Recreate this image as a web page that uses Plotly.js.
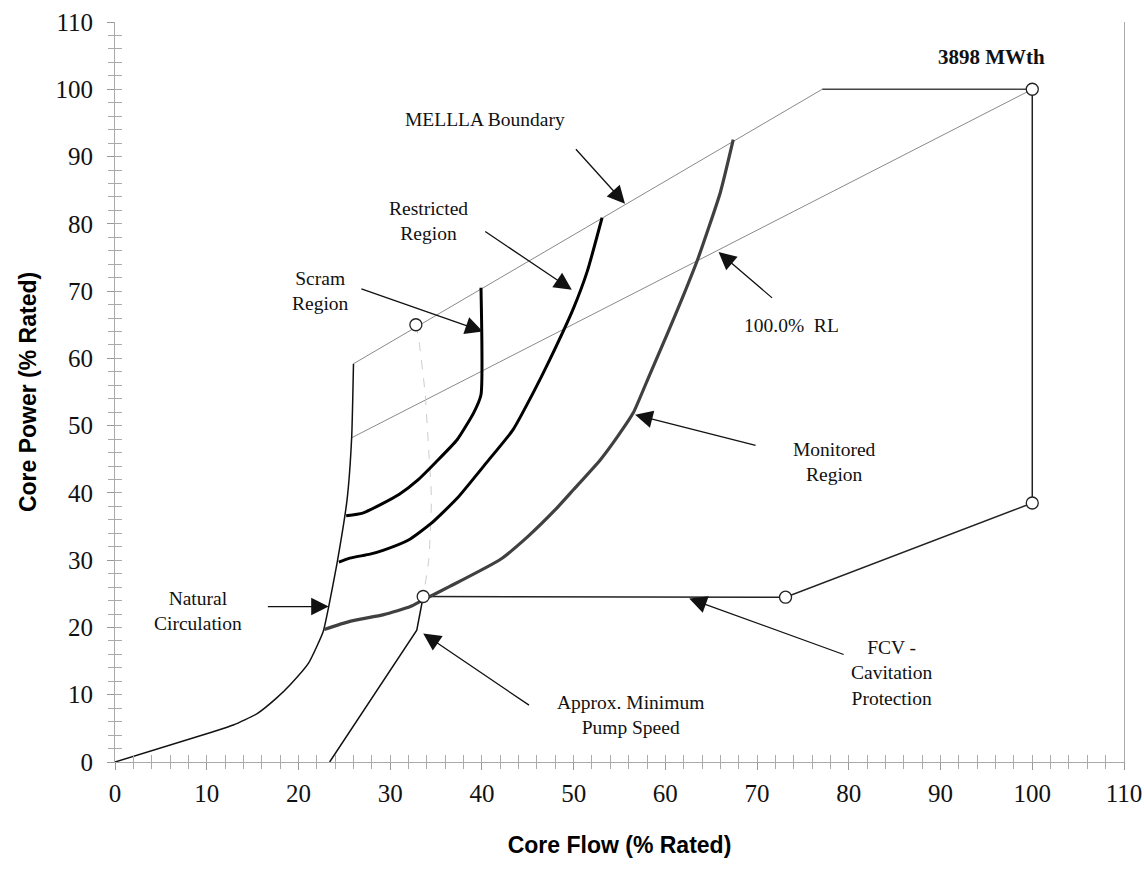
<!DOCTYPE html>
<html>
<head>
<meta charset="utf-8">
<script src="https://cdn.plot.ly/plotly-3.0.1.min.js"></script>
<style>html,body{margin:0;padding:0;background:#fff;}#chart{width:1144px;height:869px;}</style>
</head>
<body>
<div id="chart"></div>
<script>
// ---- data (Core Flow % rated, Core Power % rated) ----
const natX = [0, 10.7, 12.9, 15.5, 17.6, 19.1, 21.1, 22.7, 23.3, 24.2, 25.3, 25.8, 26.0];
const natY = [0, 4.5, 5.5, 7.2, 9.5, 11.5, 14.7, 19.4, 23.1, 29.5, 39.0, 48.2, 59.2];

const mellX = [26.0, 77.1];
const mellY = [59.2, 100];
const topX = [77.1, 100];
const topY = [100, 100];

const rlX = [25.8, 100];
const rlY = [48.2, 100];

const fcvX = [100, 100, 73.1, 33.6];
const fcvY = [100, 38.5, 24.5, 24.6];

const pumpX = [23.4, 32.9, 33.6];
const pumpY = [0, 19.6, 24.6];

const dashX = [32.8, 33.1, 33.8, 34.2, 34.5, 34.2, 33.6];
const dashY = [65, 63, 54.9, 46.4, 39, 30, 24.6];

const scramX = [25.2, 27.0, 29.0, 31.0, 33.0, 35.0, 37.3, 39.1, 39.9, 39.9];
const scramY = [36.6, 37.0, 38.3, 39.8, 41.9, 44.6, 47.9, 51.9, 54.6, 70.5];

const restX = [24.4, 25.6, 27.8, 29.3, 32.0, 34.5, 37.3, 40.5, 43.4, 45.6, 47.4, 50.0, 51.5, 53.1];
const restY = [29.7, 30.3, 30.9, 31.5, 33.0, 35.5, 39.2, 44.5, 49.4, 54.9, 59.8, 67.5, 73.0, 80.9];

const monX = [22.8, 25.6, 29.3, 32.2, 33.6, 36.5, 42.0, 45.0, 48.0, 50.0, 52.9, 54.8, 56.5, 58.3, 60.2, 61.8, 63.6, 66.0, 67.4];
const monY = [19.7, 20.9, 21.9, 23.1, 24.1, 26.1, 30.1, 33.5, 37.5, 40.5, 44.9, 48.4, 51.9, 57.6, 63.6, 68.8, 75.0, 84.7, 92.5];

const circX = [32.8, 100, 100, 73.1, 33.6];
const circY = [65, 100, 38.5, 24.5, 24.6];

const tickVals = [0, 10, 20, 30, 40, 50, 60, 70, 80, 90, 100, 110];
const tickText = ['0', '10', '20', '30', '40', '50', '60', '70', '80', '90', '100', '110'];

// labels: [text, x, y, bold]
const labels = [
  ['3898 MWth', 95.6, 104.8, true],
  ['MELLLA Boundary', 40.3, 95.5, false],
  ['Restricted<br>Region', 34.2, 80.4, false],
  ['Scram<br>Region', 22.4, 70.0, false],
  ['100.0%  RL', 73.8, 64.9, false],
  ['Monitored<br>Region', 78.4, 44.6, false],
  ['Natural<br>Circulation', 9.1, 22.4, false],
  ['Approx. Minimum<br>Pump Speed', 56.2, 7.0, false],
  ['FCV -<br>Cavitation<br>Protection', 84.6, 13.2, false]
];
// arrows: [headX, headY, tailX, tailY]
const arrows = [
  [55.6, 83.0, 50.1, 91.3],
  [49.8, 70.2, 40.2, 79.0],
  [40.1, 64.0, 26.7, 70.4],
  [65.8, 75.8, 71.8, 68.8],
  [56.7, 51.6, 70.0, 47.0],
  [23.3, 23.1, 16.5, 23.1],
  [33.6, 19.1, 45.3, 8.3],
  [62.6, 24.3, 79.6, 15.9]
];

function ln(x, y, color, width, dash) {
  return {x: x, y: y, type: 'scatter', mode: 'lines', hoverinfo: 'skip', showlegend: false,
          line: {color: color, width: width, dash: dash || 'solid', shape: 'spline', smoothing: 0.5}};
}
function st(x, y, color, width) {
  return {x: x, y: y, type: 'scatter', mode: 'lines', hoverinfo: 'skip', showlegend: false,
          line: {color: color, width: width}};
}

const traces = [
  st(mellX, mellY, '#8a8a8a', 1),
  st(topX, topY, '#444', 1.5),
  st(rlX, rlY, '#8a8a8a', 1),
  ln(dashX, dashY, '#cccccc', 1, 'dash'),
  ln(natX, natY, '#111', 1.5),
  st(pumpX, pumpY, '#111', 1.5),
  st(fcvX, fcvY, '#222', 1.5),
  ln(scramX, scramY, '#000', 3),
  ln(restX, restY, '#000', 3),
  ln(monX, monY, '#404040', 3.2),
  {x: circX, y: circY, type: 'scatter', mode: 'markers', hoverinfo: 'skip', showlegend: false,
   marker: {symbol: 'circle', size: 12, color: '#fff', line: {color: '#222', width: 1.3}}},
  {x: [null], y: [null], xaxis: 'x2', yaxis: 'y2', type: 'scatter', mode: 'markers', showlegend: false, hoverinfo: 'skip'}
];

const serif = 'Liberation Serif, Times New Roman, serif';
const annotations = [];
labels.forEach(l => annotations.push({
  x: l[1], y: l[2], xref: 'x', yref: 'y', text: l[3] ? '<b>' + l[0] + '</b>' : l[0],
  showarrow: false, align: 'center',
  font: {family: serif, size: l[3] ? 21 : 19.5, color: '#111'}
}));
arrows.forEach(a => annotations.push({
  x: a[0], y: a[1], ax: a[2], ay: a[3], xref: 'x', yref: 'y', axref: 'x', ayref: 'y',
  text: '', showarrow: true, arrowhead: 2, arrowsize: 2.7, arrowwidth: 1.3, arrowcolor: '#111', standoff: 0
}));

const axCommon = {
  range: [0, 110], autorange: false, showgrid: false, zeroline: false,
  showline: true, linecolor: '#aaaaaa', linewidth: 1,
  tickmode: 'array', tickvals: tickVals, ticktext: tickText,
  ticks: 'outside', ticklen: 7, tickcolor: '#999', tickwidth: 1,
  minor: {dtick: 2, ticks: 'outside', ticklen: 6, tickcolor: '#aaa', tickwidth: 1},
  tickfont: {family: serif, size: 25, color: '#111'}
};

const layout = {
  width: 1144, height: 869,
  margin: {l: 115, r: 20, t: 22, b: 107},
  paper_bgcolor: '#fff', plot_bgcolor: '#fff',
  showlegend: false,
  xaxis: Object.assign({}, axCommon, {
    ticklabelstandoff: 2,
    title: {text: 'Core Flow (% Rated)', font: {family: 'Liberation Sans, Arial, sans-serif', size: 23, color: '#000', weight: 'bold'}, standoff: 30}
  }),
  yaxis: Object.assign({}, axCommon, {
    mirror: true,
    ticklabelstandoff: 9,
    title: {text: 'Core Power (% Rated)', font: {family: 'Liberation Sans, Arial, sans-serif', size: 23, color: '#000', weight: 'bold'}, standoff: 12}
  }),
  xaxis2: {overlaying: 'x', anchor: 'y2', side: 'bottom', range: [0, 110], autorange: false, showgrid: false, zeroline: false,
           showline: false, showticklabels: false, dtick: 2, tick0: 0, ticks: 'inside', ticklen: 7, tickcolor: '#aaa'},
  yaxis2: {overlaying: 'y', anchor: 'x2', side: 'left', range: [0, 110], autorange: false, showgrid: false, zeroline: false,
           showline: false, showticklabels: false, dtick: 2, tick0: 0, ticks: 'inside', ticklen: 7, tickcolor: '#aaa'},
  annotations: annotations
};

Plotly.newPlot('chart', traces, layout, {staticPlot: true, displayModeBar: false});
</script>
</body>
</html>
